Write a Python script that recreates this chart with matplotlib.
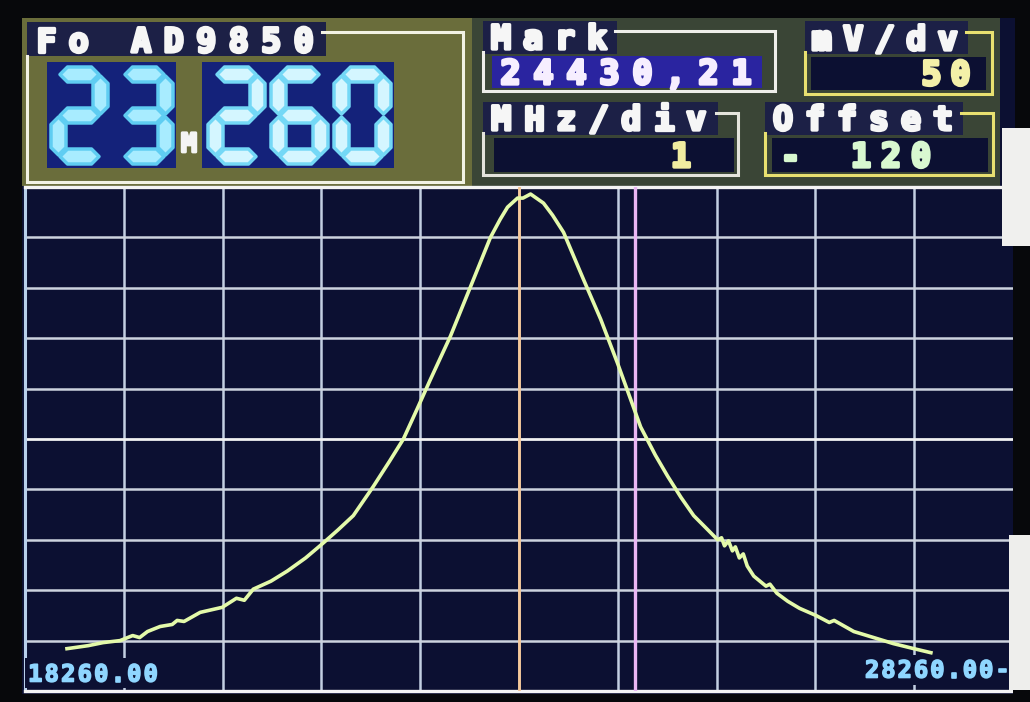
import matplotlib
matplotlib.use('Agg')
import matplotlib.pyplot as plt
import matplotlib.patheffects as pe
from matplotlib.patches import Rectangle, Polygon

# sweep settings shown in the header
center_khz = 23260
start_khz = 18260
stop_khz = 28260
mark_khz = 24430.21
mhz_per_div = 1
mv_per_div = 50
offset = -120

# detector trace, kHz / mV
freq_khz = [18685, 18900, 19050, 19222, 19350, 19420, 19500, 19628, 19750, 19800,
            19870, 20033, 20256, 20400, 20480, 20570, 20750, 20915, 21100, 21269,
            21430, 21583, 21786, 21950, 22090, 22230, 22363, 22566, 22769, 22971,
            23070, 23144, 23245, 23300, 23377, 23508, 23600, 23711, 23914, 24086,
            24258, 24491, 24640, 24765, 24900, 25028, 25150, 25271, 25310, 25340,
            25380, 25420, 25450, 25490, 25530, 25570, 25636, 25760, 25800, 25870,
            25980, 26100, 26264, 26400, 26450, 26649, 26850, 27050, 27257, 27429]
level_mv = [42, 45, 48, 50, 55, 53, 59, 64, 66, 70,
            69, 78, 83, 92, 90, 101, 109, 119, 132, 146,
            160, 174, 203, 228, 250, 280, 309, 352, 401, 450,
            468, 480, 489, 489, 493, 484, 472, 455, 408, 369,
            325, 262, 234, 213, 192, 174, 162, 150, 152, 144,
            149, 139, 143, 132, 136, 124, 114, 104, 106, 97,
            89, 82, 75, 68, 70, 59, 53, 47, 42, 38]

W, H = 1030, 702
NAVY = '#0c1032'
LABEL_BG = '#1c2046'
MONO = 'DejaVu Sans Mono'

fig = plt.figure(figsize=(W / 100, H / 100), dpi=100)
fig.patch.set_facecolor('#07080b')

bg = fig.add_axes([0, 0, 1, 1])
bg.set_xlim(0, W)
bg.set_ylim(H, 0)
bg.axis('off')

top = fig.add_axes([0, 0, 1, 1], zorder=5)
top.set_xlim(0, W)
top.set_ylim(H, 0)
top.axis('off')
top.patch.set_alpha(0)


def box(axh, x0, y0, x1, y1, color, **kw):
    axh.add_patch(Rectangle((x0, y0), x1 - x0, y1 - y0, facecolor=color,
                            edgecolor='none', **kw))


def frame(axh, pts, color, lw=2.2):
    xs, ys = zip(*pts)
    axh.plot(xs, ys, color=color, lw=lw, solid_joinstyle='miter')


def lcd(axh, x, yc, s, color, size=24, pitch=32, stroke=2.4):
    # fixed-pitch heavy glyphs, one per cell
    fx = [pe.withStroke(linewidth=stroke, foreground=color)]
    for i, ch in enumerate(s):
        axh.text(x + pitch * (i + 0.5), yc + size * 0.5, ch, ha='center',
                 va='baseline', color=color, fontsize=size, family=MONO,
                 weight='bold', path_effects=fx)


SEGMENTS = {'0': 'abcdef', '1': 'bc', '2': 'abdeg', '3': 'abcdg',
            '6': 'acdefg', '5': 'acdfg', '8': 'abcdefg', '4': 'bcfg',
            '7': 'abc', '9': 'abcdfg'}


def seven_seg(axh, ch, x0, y0, w, h, t, face, edge):
    g = 1.5
    ym = y0 + h / 2
    xl, xr = x0 + t / 2, x0 + w - t / 2
    yt, yb = y0 + t / 2, y0 + h - t / 2

    def hseg(xa, xb, yc):
        return [(xa, yc), (xa + t / 2, yc - t / 2), (xb - t / 2, yc - t / 2),
                (xb, yc), (xb - t / 2, yc + t / 2), (xa + t / 2, yc + t / 2)]

    def vseg(xc, ya, yb_):
        return [(xc, ya), (xc + t / 2, ya + t / 2), (xc + t / 2, yb_ - t / 2),
                (xc, yb_), (xc - t / 2, yb_ - t / 2), (xc - t / 2, ya + t / 2)]

    segs = {'a': hseg(xl + g, xr - g, yt), 'g': hseg(xl + g, xr - g, ym),
            'd': hseg(xl + g, xr - g, yb), 'f': vseg(xl, yt + g, ym - g),
            'b': vseg(xr, yt + g, ym - g), 'e': vseg(xl, ym + g, yb - g),
            'c': vseg(xr, ym + g, yb - g)}
    for s in SEGMENTS[ch]:
        axh.add_patch(Polygon(segs[s], closed=True, facecolor=face,
                              edgecolor=edge, lw=2.5, joinstyle='round'))


# screen and header panels
box(bg, 22, 18, 1015, 694, NAVY)
box(bg, 22, 18, 472, 186, '#6a6d3b')
box(bg, 472, 18, 1000, 186, '#3a4536')

# Fo block with the big frequency readout
frame(bg, [(322, 32), (463, 32), (463, 182), (27, 182), (27, 56)], '#f2f2e4')
box(bg, 27, 22, 326, 56, LABEL_BG)
lcd(bg, 30, 40, 'Fo', '#f6f6f6', pitch=32.5)
lcd(bg, 125, 40, 'AD9850', '#f6f6f6', pitch=32.5)

freq_txt = str(center_khz)
mhz_part, khz_part = freq_txt[:-3], freq_txt[-3:]
box(bg, 47, 62, 176, 168, '#14227a')
box(bg, 202, 62, 394, 168, '#14227a')
for i, ch in enumerate(mhz_part):
    seven_seg(bg, ch, 51 + i * 65, 67, 57, 97, 15, '#a8ecff', '#5fcdf2')
for i, ch in enumerate(khz_part):
    seven_seg(bg, ch, 208 + i * 63, 67, 57, 97, 15, '#d4f6ff', '#74d8f6')
bg.text(189, 145, 'M', ha='center', va='center', color='#f4f4f4',
        fontsize=19, family=MONO, weight='bold',
        path_effects=[pe.withStroke(linewidth=2, foreground='#f4f4f4')])

# Mark
frame(bg, [(615, 31), (775, 31), (775, 91), (483, 91), (483, 52)], '#eeeeea')
box(bg, 483, 21, 617, 54, LABEL_BG)
lcd(bg, 485, 37, 'Mark', '#f6f6f6')
box(bg, 492, 56, 762, 88, '#2a24a0')
lcd(bg, 494, 72, f'{mark_khz:.2f}'.replace('.', ','), '#f6eeff', pitch=33)

# mV/dv
frame(bg, [(966, 32), (992, 32), (992, 94), (805, 94), (805, 52)], '#e8e070')
box(bg, 805, 21, 968, 54, LABEL_BG)
lcd(bg, 806, 38, 'mV/dv', '#f6f6f6', pitch=31.5)
box(bg, 811, 57, 986, 90, NAVY)
lcd(bg, 917, 73, str(mv_per_div), '#f4f0a8', pitch=29)

# MHz/div
frame(bg, [(716, 113), (738, 113), (738, 175), (483, 175), (483, 133)], '#e4e4dc')
box(bg, 483, 102, 718, 135, LABEL_BG)
lcd(bg, 485, 118, 'MHz/div', '#f6f6f6', pitch=32.5)
box(bg, 494, 138, 734, 172, NAVY)
lcd(bg, 666, 155, str(mhz_per_div), '#f0eca0', pitch=30)

# Offset
frame(bg, [(961, 113), (993, 113), (993, 175), (765, 175), (765, 133)], '#e8e070')
box(bg, 765, 102, 963, 135, LABEL_BG)
lcd(bg, 767, 118, 'Offset', '#f6f6f6')
box(bg, 772, 138, 988, 172, NAVY)
lcd(bg, 775, 155, '-', '#d8f8d0', pitch=30)
lcd(bg, 846, 155, str(abs(offset)), '#d8f8d0', pitch=30)

# sweep plot
ax = fig.add_axes([25 / W, (H - 691) / H, (1013 - 25) / W, (691 - 187) / H],
                  zorder=2)
ax.set_facecolor(NAVY)
ax.set_xlim(start_khz, stop_khz)
ax.set_ylim(0, 10 * mv_per_div)
ax.set_xticks([])
ax.set_yticks([])
for sp in ax.spines.values():
    sp.set_visible(False)

for k in range(1, 10):
    ax.axvline(start_khz + k * mhz_per_div * 1000, color='#c3cfe2', lw=1.8)
for k in range(1, 10):
    c = '#f2f2f2' if k == 5 else '#cdd3de'
    ax.axhline(k * mv_per_div, color=c, lw=2.0 if k == 5 else 1.8)
ax.axvline(start_khz, color='#b8d0ec', lw=2.2, clip_on=False)
ax.axhline(10 * mv_per_div, color='#f4f4f4', lw=2.4, clip_on=False)
ax.axhline(0, color='#f4f4f4', lw=2.4, clip_on=False)

ax.axvline(center_khz, color='#f6c796', lw=2.0, zorder=3)
ax.axvline(mark_khz, color='#eab6f4', lw=2.4, zorder=3)

ax.plot(freq_khz, level_mv, color='#e4faaa', lw=2.6, zorder=4,
        solid_joinstyle='round')

# span labels along the bottom
box(top, 25, 658, 161, 688, NAVY)
lcd(top, 27, 673, f'{start_khz:.2f}', '#8fd6ff', size=17, pitch=16.5,
    stroke=1.2)
box(top, 862, 655, 1013, 685, NAVY)
lcd(top, 864, 669, f'{stop_khz:.2f}-', '#8fd6ff', size=17, pitch=16.3,
    stroke=1.2)

# bezel edge and paper tabs on the right
box(top, 1013, 186, 1030, 694, '#07080b')
box(top, 1002, 128, 1030, 246, '#f0f0ee')
box(top, 1009, 535, 1030, 690, '#eeeeec')

fig.savefig('out.png', dpi=100, facecolor=fig.get_facecolor())
